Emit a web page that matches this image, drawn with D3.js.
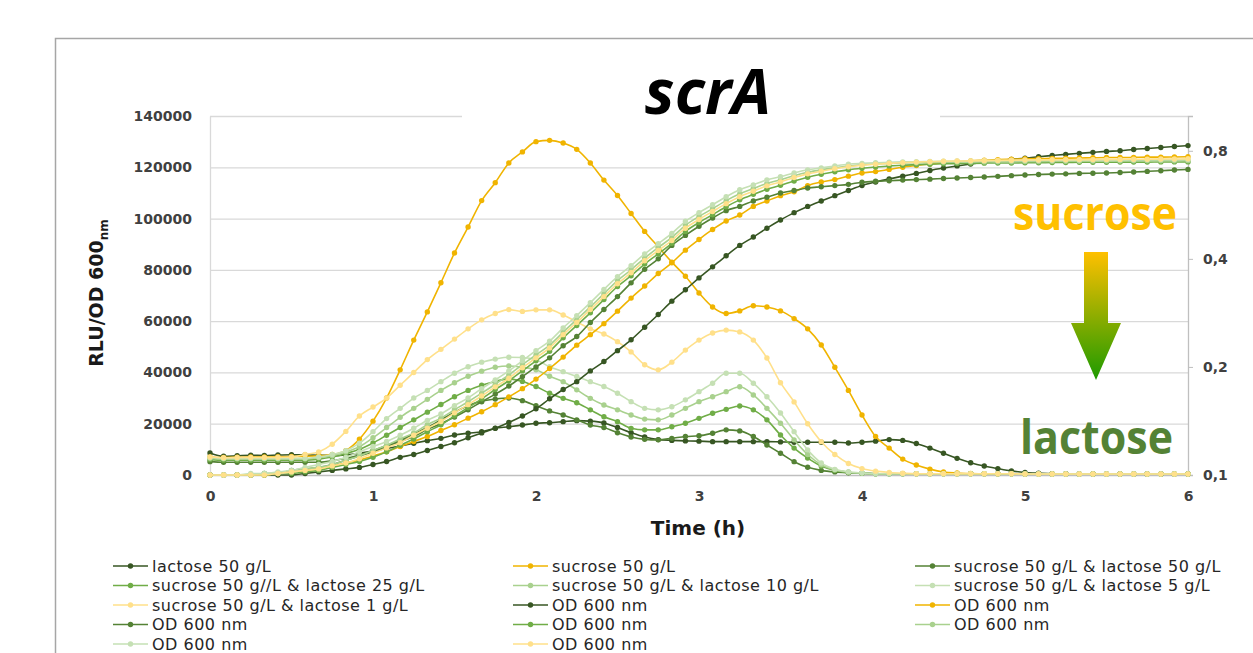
<!DOCTYPE html>
<html><head><meta charset="utf-8">
<script src="https://cdn.jsdelivr.net/npm/d3@7"></script>
<style>
body{margin:0;background:#fff}
svg{display:block}
text{font-family:"DejaVu Sans","Open Sans",sans-serif}
text.os{font-family:"Open Sans",Lato,sans-serif}
</style>
</head><body>
<svg id="c" width="1253" height="653"></svg>
<script>
// ---- data (sampling every 5 min, 0..6 h) ----
const timeH = d3.range(0, 73).map(i => i * 5 / 60);
const xTicks = [0, 1, 2, 3, 4, 5, 6];
const leftTicks = [0, 20000, 40000, 60000, 80000, 100000, 120000, 140000];
const rightTicks = [0.1, 0.2, 0.4, 0.8];

const seriesNames = ["lactose 50 g/L", "sucrose 50 g/L", "sucrose 50 g/L & lactose 50 g/L",
  "sucrose 50 g//L & lactose 25 g/L", "sucrose 50 g/L & lactose 10 g/L", "sucrose 50 g/L & lactose 5 g/L",
  "sucrose 50 g/L & lactose 1 g/L", "OD 600 nm", "OD 600 nm", "OD 600 nm", "OD 600 nm", "OD 600 nm", "OD 600 nm", "OD 600 nm"];

// RLU/OD600 (left axis)
const rluLactose50 = [8600,7300,7500,7700,7600,7800,7900,7800,7700,7600,7800,8500,
  9300,10400,11300,12400,13400,14300,15600,16300,16900,18200,18800,19500,
  20200,20400,20800,21200,21000,20300,18500,16500,14800,13800,13500,13300,
  13200,13000,13000,13000,13000,13000,12900,12800,12800,12800,12800,12500,
  12800,13200,13800,13500,12300,10500,8500,6500,4800,3500,2500,1600,
  1000,700,500,500,400,400,400,400,400,400,400,400,400];
const rluSucrose50 = [7000,6800,6900,7000,7000,7100,7200,7300,7500,8000,9500,14000,
  21000,30000,41000,52600,63600,75000,86600,96700,107000,114000,121700,126000,
  130000,130500,129500,127000,121700,115000,109000,102000,95000,89000,83000,77500,
  71000,65500,63000,64000,66000,65500,64000,61000,57000,50700,42000,33000,
  23400,15000,10500,6200,3900,2300,1200,800,600,500,500,500,
  400,400,400,400,400,400,400,400,400,400,400,400,400];
const rluSucLac50 = [5200,5000,5000,5000,5000,5000,5000,5000,5000,5500,6500,7800,
  9500,11500,13500,16000,18500,21500,24500,27000,28800,29600,30000,29000,
  27000,25000,23400,21500,19500,18500,16500,14800,13900,13700,14300,15000,
  15300,16300,17600,17200,15000,11700,8500,5200,3000,1800,1200,900,
  700,500,500,500,500,500,500,500,500,500,500,500,
  400,400,400,400,400,400,400,400,400,400,400,400,400];
const rluSucLac25 = [6000,5800,5800,5800,5800,5800,5800,5800,6200,7000,8300,10000,
  12500,15500,18500,21500,24500,27500,30500,33000,35000,36500,37500,36500,
  34500,31900,29900,28200,25400,22700,20800,18200,17600,17600,18800,20200,
  22100,24100,25600,26900,25400,21500,15600,10500,6600,3500,1800,1000,
  700,500,500,500,500,500,500,500,500,500,500,500,
  400,400,400,400,400,400,400,400,400,400,400,400,400];
const rluSucLac10 = [6500,6300,6300,6300,6300,6300,6300,6300,6800,7500,9000,11000,
  14500,18500,22500,26000,29500,33000,36000,38500,40500,42000,42500,42000,
  41000,38500,36400,33200,29900,27300,25400,23400,21800,21500,23400,26000,
  28600,30500,32500,34400,31200,26000,20200,13700,8000,4000,2000,1200,
  800,500,500,500,500,500,500,500,500,500,500,500,
  400,400,400,400,400,400,400,400,400,400,400,400,400];
const rluSucLac5 = [6800,6500,6500,6500,6500,6500,6500,6500,7000,8000,9500,12400,
  16900,22000,26000,30000,33000,36400,39700,42200,44000,45200,45900,45800,
  44900,42200,40300,38400,36400,34500,31900,28600,26000,25400,26600,29300,
  32500,35800,39700,39700,35800,30500,24200,16900,9800,4700,2200,1200,
  800,500,500,500,500,500,500,500,500,500,500,500,
  400,400,400,400,400,400,400,400,400,400,400,400,400];
const rluSucLac1 = [7000,6700,6800,6800,6800,6900,7000,8000,9000,12000,17000,23000,
  26500,30000,35000,40000,45000,49000,53000,57000,60500,63000,64500,63800,
  64400,64400,62400,59700,57000,55000,52000,48000,43000,41000,44000,48700,
  52600,55400,56500,55800,52600,45600,36000,28500,20000,13000,8000,4500,
  2500,1500,1000,700,500,500,500,500,500,500,500,500,
  400,400,400,400,400,400,400,400,400,400,400,400,400];

// OD 600 nm (right axis, log)
const odLactose50 = [0.100,0.100,0.100,0.100,0.100,0.100,0.100,0.101,0.102,0.103,0.104,0.105,
  0.107,0.109,0.112,0.114,0.117,0.120,0.123,0.127,0.131,0.135,0.140,0.146,
  0.153,0.163,0.173,0.182,0.195,0.207,0.222,0.238,0.258,0.280,0.305,0.328,
  0.354,0.380,0.408,0.436,0.460,0.487,0.513,0.538,0.560,0.580,0.600,0.620,
  0.640,0.655,0.668,0.680,0.692,0.705,0.716,0.726,0.735,0.743,0.750,0.757,
  0.763,0.770,0.776,0.782,0.787,0.792,0.797,0.800,0.807,0.812,0.817,0.822,0.827];
const odSucrose50 = [0.100,0.100,0.100,0.100,0.100,0.101,0.102,0.103,0.104,0.106,0.108,0.110,
  0.113,0.116,0.120,0.124,0.128,0.133,0.138,0.144,0.150,0.157,0.165,0.174,
  0.185,0.198,0.213,0.230,0.246,0.264,0.286,0.311,0.336,0.364,0.390,0.423,
  0.453,0.483,0.510,0.530,0.560,0.580,0.600,0.615,0.640,0.655,0.665,0.680,
  0.694,0.700,0.710,0.720,0.728,0.735,0.740,0.745,0.750,0.753,0.756,0.758,
  0.760,0.761,0.762,0.763,0.764,0.765,0.766,0.766,0.767,0.768,0.768,0.769,0.770];
const odSucLac50 = [0.100,0.100,0.100,0.100,0.101,0.101,0.103,0.104,0.105,0.107,0.110,0.113,
  0.116,0.120,0.124,0.128,0.134,0.139,0.145,0.152,0.160,0.168,0.177,0.188,
  0.200,0.212,0.229,0.243,0.266,0.289,0.314,0.343,0.374,0.400,0.436,0.465,
  0.493,0.520,0.545,0.560,0.580,0.594,0.610,0.620,0.630,0.635,0.640,0.645,
  0.654,0.658,0.660,0.663,0.665,0.667,0.670,0.672,0.674,0.676,0.679,0.682,
  0.685,0.687,0.689,0.690,0.692,0.693,0.694,0.696,0.698,0.701,0.704,0.707,0.710];
const odSucLac25 = [0.100,0.100,0.100,0.100,0.100,0.101,0.101,0.102,0.103,0.105,0.107,0.109,
  0.112,0.116,0.121,0.126,0.132,0.138,0.146,0.154,0.163,0.173,0.183,0.195,
  0.208,0.221,0.241,0.261,0.283,0.308,0.335,0.359,0.387,0.413,0.442,0.477,
  0.505,0.531,0.559,0.584,0.605,0.625,0.641,0.659,0.675,0.688,0.699,0.708,
  0.715,0.721,0.726,0.729,0.732,0.734,0.736,0.737,0.738,0.739,0.740,0.740,
  0.741,0.741,0.742,0.742,0.743,0.743,0.743,0.744,0.744,0.744,0.745,0.745,0.745];
const odSucLac10 = [0.100,0.100,0.100,0.100,0.101,0.101,0.102,0.104,0.105,0.107,0.110,0.113,
  0.117,0.121,0.126,0.131,0.138,0.144,0.152,0.160,0.169,0.179,0.190,0.203,
  0.216,0.230,0.250,0.271,0.294,0.320,0.348,0.373,0.402,0.430,0.459,0.496,
  0.525,0.552,0.581,0.607,0.628,0.649,0.664,0.682,0.697,0.708,0.717,0.725,
  0.731,0.735,0.738,0.740,0.741,0.742,0.743,0.744,0.745,0.745,0.746,0.746,
  0.747,0.747,0.748,0.748,0.748,0.749,0.749,0.749,0.750,0.750,0.750,0.750,0.751];
const odSucLac5 = [0.100,0.100,0.100,0.101,0.101,0.102,0.103,0.105,0.107,0.109,0.112,0.116,
  0.120,0.124,0.129,0.135,0.142,0.148,0.156,0.164,0.174,0.184,0.195,0.208,
  0.222,0.236,0.257,0.278,0.302,0.329,0.357,0.383,0.413,0.441,0.471,0.509,
  0.538,0.566,0.596,0.623,0.643,0.664,0.677,0.694,0.708,0.717,0.726,0.734,
  0.738,0.741,0.743,0.745,0.746,0.747,0.748,0.749,0.750,0.751,0.751,0.752,
  0.752,0.753,0.753,0.754,0.754,0.754,0.755,0.755,0.755,0.756,0.756,0.756,0.757];
const odSucLac1 = [0.100,0.100,0.100,0.100,0.100,0.101,0.102,0.103,0.104,0.106,0.108,0.111,
  0.115,0.119,0.123,0.129,0.135,0.141,0.149,0.157,0.166,0.176,0.186,0.199,
  0.212,0.226,0.246,0.266,0.289,0.314,0.341,0.366,0.395,0.422,0.450,0.487,
  0.515,0.542,0.570,0.596,0.617,0.639,0.655,0.674,0.690,0.702,0.713,0.722,
  0.729,0.734,0.738,0.741,0.744,0.746,0.748,0.749,0.750,0.751,0.752,0.753,
  0.754,0.754,0.755,0.755,0.756,0.756,0.757,0.757,0.758,0.758,0.759,0.759,0.760];

const seriesColors = ["#375623", "#f0b400", "#548235", "#70ad47", "#a9d18e", "#c5e0b4", "#ffe08a",
  "#375623", "#f0b400", "#548235", "#70ad47", "#a9d18e", "#c5e0b4", "#ffe08a"];

// ---- build ----
const rluSeries = [rluLactose50, rluSucrose50, rluSucLac50, rluSucLac25, rluSucLac10, rluSucLac5, rluSucLac1];
const odSeries = [odLactose50, odSucrose50, odSucLac50, odSucLac25, odSucLac10, odSucLac5, odSucLac1];
const series = [];
rluSeries.forEach((v, k) => series.push({name: seriesNames[k], values: v, axis: "L", color: seriesColors[k]}));
odSeries.forEach((v, k) => series.push({name: seriesNames[7 + k], values: v, axis: "R", color: seriesColors[7 + k]}));

const svg = d3.select("#c");
const x = d3.scaleLinear().domain([0, 6]).range([210, 1188]);
const yL = d3.scaleLinear().domain([0, 140000]).range([475, 116]);
const yR = d3.scaleLog().base(2).domain([0.1, 1]).range([475, 116]);

svg.append("rect").attr("width", 1253).attr("height", 653).attr("fill", "#fff");
svg.append("rect").attr("x", 55.5).attr("y", 38.5).attr("width", 1220).attr("height", 640)
  .attr("fill", "none").attr("stroke", "#a6a6a6").attr("stroke-width", 1.5);

// gridlines
const grid = svg.append("g").attr("transform", "translate(210,0)")
  .call(d3.axisLeft(yL).tickValues(leftTicks.slice(1)).tickSize(-978).tickFormat(""));
grid.select(".domain").remove();
grid.selectAll("line").attr("stroke", "#d9d9d9").attr("stroke-width", 1.3);

// left axis labels
const gl = svg.append("g").attr("transform", "translate(210,0)")
  .call(d3.axisLeft(yL).tickValues(leftTicks).tickSize(0).tickPadding(18).tickFormat(d3.format("d")));
gl.select(".domain").attr("stroke", "#d9d9d9").attr("stroke-width", 1.3);
gl.selectAll("text").attr("font-size", 14).attr("font-weight", 700).attr("fill", "#404040");

// x axis
const gx = svg.append("g").attr("transform", "translate(0,475)")
  .call(d3.axisBottom(x).tickValues(xTicks).tickSize(0).tickPadding(16).tickFormat(d3.format("d")));
gx.select(".domain").attr("stroke", "#bfbfbf").attr("stroke-width", 1.5);
gx.selectAll("text").attr("font-size", 14).attr("font-weight", 700).attr("fill", "#404040");

// right axis
const gr = svg.append("g").attr("transform", "translate(1188,0)")
  .call(d3.axisRight(yR).tickValues(rightTicks).tickSize(5).tickPadding(10)
    .tickFormat(d => d3.format(".1f")(d).replace(".", ",")));
gr.select(".domain").attr("stroke", "#bfbfbf").attr("stroke-width", 1.3);
gr.selectAll("line").attr("stroke", "#bfbfbf");
gr.selectAll("text").attr("font-size", 14).attr("font-weight", 700).attr("fill", "#404040");

// title box covering top gridline
svg.append("rect").attr("x", 462).attr("y", 58).attr("width", 478).attr("height", 64).attr("fill", "#fff");
svg.append("text").attr("class", "os").attr("x", 708).attr("y", 114).attr("text-anchor", "middle")
  .attr("font-size", 63).attr("font-weight", 700).attr("font-style", "italic").attr("fill", "#000").text("scrA");

// axis titles
svg.append("text").attr("x", 698).attr("y", 535).attr("text-anchor", "middle")
  .attr("font-size", 20).attr("font-weight", 700).attr("fill", "#1a1a1a").text("Time (h)");
const yt = svg.append("text").attr("transform", "translate(103,293) rotate(-90)").attr("text-anchor", "middle")
  .attr("font-size", 19).attr("font-weight", 700).attr("fill", "#1a1a1a");
yt.append("tspan").text("RLU/OD 600");
yt.append("tspan").attr("font-size", 12).attr("dy", 5).text("nm");

// series
const plot = svg.append("g");
series.forEach(s => {
  const ys = s.axis === "L" ? yL : yR;
  const line = d3.line().x((d, i) => x(timeH[i])).y(d => ys(d)).curve(d3.curveMonotoneX);
  plot.append("path").datum(s.values).attr("d", line).attr("fill", "none")
    .attr("stroke", s.color).attr("stroke-width", 1.6);
  plot.append("g").selectAll("circle").data(s.values).join("circle")
    .attr("cx", (d, i) => x(timeH[i])).attr("cy", d => ys(d)).attr("r", 2.7).attr("fill", s.color);
});

// annotations: sucrose -> lactose
const defs = svg.append("defs");
const grad = defs.append("linearGradient").attr("id", "arrowGrad").attr("x1", 0).attr("y1", 0).attr("x2", 0).attr("y2", 1);
grad.append("stop").attr("offset", "0%").attr("stop-color", "#ffc000");
grad.append("stop").attr("offset", "100%").attr("stop-color", "#1d9a00");
svg.append("path").attr("d", "M1084,252 L1108,252 L1108,323 L1121,323 L1096,380 L1071,323 L1084,323 Z")
  .attr("fill", "url(#arrowGrad)");
svg.append("text").attr("class", "os").attr("x", 1013).attr("y", 230)
  .attr("font-size", 46).attr("font-weight", 700)
  .attr("fill", "#ffc000").attr("textLength", 164).attr("lengthAdjust", "spacingAndGlyphs").text("sucrose");
svg.append("text").attr("class", "os").attr("x", 1020).attr("y", 454)
  .attr("font-size", 46).attr("font-weight", 700)
  .attr("fill", "#548235").attr("textLength", 153).attr("lengthAdjust", "spacingAndGlyphs").text("lactose");

// legend
const colX = [113, 513, 915];
const leg = svg.append("g");
series.forEach((s, k) => {
  const r = Math.floor(k / 3), c = k % 3;
  const gy = 566 + r * 19.5, gx0 = colX[c];
  leg.append("line").attr("x1", gx0).attr("x2", gx0 + 35).attr("y1", gy).attr("y2", gy)
    .attr("stroke", s.color).attr("stroke-width", 1.6);
  leg.append("circle").attr("cx", gx0 + 17.5).attr("cy", gy).attr("r", 2.7).attr("fill", s.color);
  leg.append("text").attr("x", gx0 + 39).attr("y", gy).attr("dy", "0.35em").attr("font-size", 16)
    .attr("letter-spacing", 0.5).attr("fill", "#262626").text(s.name);
});
</script>
</body></html>
